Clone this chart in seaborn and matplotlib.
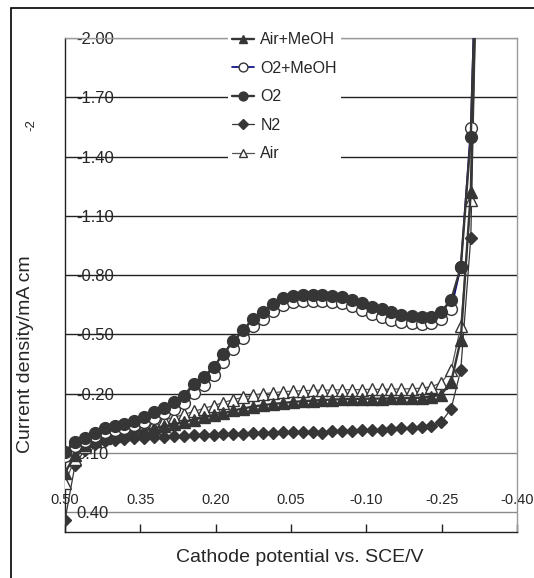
import numpy as np
import pandas as pd
import seaborn as sns
import matplotlib
matplotlib.use('Agg')
import matplotlib.pyplot as plt
from matplotlib.patches import Rectangle
from matplotlib.ticker import FixedLocator, StrMethodFormatter

#####################################################
## Data (potential in V, current density in mA cm-2)
potential = [0.500, 0.480, 0.461, 0.441, 0.421, 0.401, 0.382, 0.362, 0.342, 0.323,
             0.303, 0.283, 0.263, 0.244, 0.224, 0.204, 0.185, 0.165, 0.145, 0.126,
             0.106, 0.086, 0.066, 0.047, 0.027, 0.007, -0.012, -0.032, -0.052, -0.072,
             -0.091, -0.111, -0.131, -0.150, -0.170, -0.190, -0.210, -0.229, -0.249, -0.269,
             -0.288, -0.308, -0.328]

air_meoh = [0.200, 0.110, 0.060, 0.040, 0.025, 0.015, 0.005, -0.005, -0.015, -0.025,
            -0.035, -0.045, -0.058, -0.068, -0.080, -0.090, -0.100, -0.115, -0.125, -0.135,
            -0.142, -0.148, -0.153, -0.158, -0.162, -0.165, -0.168, -0.170, -0.172, -0.173,
            -0.174, -0.175, -0.175, -0.176, -0.177, -0.178, -0.180, -0.185, -0.195, -0.260,
            -0.473, -1.220, -3.400]

o2_meoh = [0.115, 0.065, 0.040, 0.015, -0.005, -0.015, -0.025, -0.040, -0.055, -0.075,
           -0.100, -0.125, -0.155, -0.205, -0.245, -0.295, -0.360, -0.425, -0.480, -0.540,
           -0.580, -0.620, -0.650, -0.665, -0.670, -0.670, -0.670, -0.665, -0.660, -0.645,
           -0.625, -0.605, -0.590, -0.575, -0.565, -0.560, -0.555, -0.560, -0.580, -0.630,
           -0.840, -1.545, -3.300]

o2 = [0.095, 0.046, 0.025, -0.002, -0.025, -0.035, -0.047, -0.063, -0.083, -0.105,
      -0.130, -0.160, -0.190, -0.250, -0.285, -0.335, -0.400, -0.465, -0.520, -0.580,
      -0.615, -0.655, -0.685, -0.695, -0.700, -0.700, -0.700, -0.695, -0.690, -0.675,
      -0.660, -0.640, -0.630, -0.615, -0.600, -0.595, -0.590, -0.590, -0.615, -0.675,
      -0.840, -1.500, -3.200]

n2 = [0.440, 0.160, 0.085, 0.055, 0.040, 0.032, 0.027, 0.024, 0.022, 0.020,
      0.018, 0.016, 0.013, 0.011, 0.009, 0.007, 0.005, 0.003, 0.002, 0.000,
      -0.001, -0.002, -0.004, -0.005, -0.006, -0.008, -0.002, -0.010, -0.011, -0.012,
      -0.014, -0.016, -0.018, -0.020, -0.024, -0.027, -0.032, -0.037, -0.055, -0.125,
      -0.320, -0.990, -3.300]

air = [0.250, 0.130, 0.070, 0.040, 0.020, 0.005, -0.008, -0.022, -0.036, -0.050,
       -0.065, -0.080, -0.095, -0.110, -0.125, -0.140, -0.155, -0.170, -0.182, -0.192,
       -0.200, -0.205, -0.210, -0.213, -0.215, -0.217, -0.218, -0.219, -0.220, -0.220,
       -0.221, -0.222, -0.222, -0.223, -0.224, -0.225, -0.228, -0.235, -0.255, -0.320,
       -0.540, -1.180, -3.300]

x_ticks = [0.50, 0.35, 0.20, 0.05, -0.10, -0.25, -0.40]
y_ticks = [-2.00, -1.70, -1.40, -1.10, -0.80, -0.50, -0.20, 0.10, 0.40]
legend_order = ['Air+MeOH', 'O2+MeOH', 'O2', 'N2', 'Air']
#####################################################


#####################################################
## Style
sns.set_theme(style='white')
plt.rcParams['font.family'] = ['Liberation Sans Narrow', 'Liberation Sans', 'DejaVu Sans']
plt.rcParams['axes.unicode_minus'] = False
dark = '#363636'
navy = '#000080'
#####################################################


fig = plt.figure(figsize=(5.34, 5.78), dpi=100)
ax = fig.add_axes([65 / 534, 46 / 578, 452 / 534, 494 / 578])

df = pd.DataFrame({'potential': potential})

# (label, values, line color, line width, marker, face, size, z)
series = [
    ('N2', n2, dark, 0.9, 'D', dark, 6.5, 3),
    ('Air', air, '#555555', 0.9, '^', 'white', 8.5, 4),
    ('Air+MeOH', air_meoh, dark, 1.7, '^', dark, 8.5, 5),
    ('O2+MeOH', o2_meoh, navy, 1.2, 'o', 'white', 8.5, 6),
    ('O2', o2, dark, 1.7, 'o', dark, 8.5, 7),
]
for label, vals, lc, lw, mk, mfc, ms, z in series:
    df[label] = vals
    sns.lineplot(data=df, x='potential', y=label, sort=False, ax=ax, label=label,
                 color=lc, linewidth=lw, marker=mk, markersize=ms,
                 markerfacecolor=mfc, markeredgecolor=dark, markeredgewidth=1.0,
                 zorder=z)

ax.set_xlim(0.50, -0.40)
ax.set_ylim(0.50, -2.00)

ax.xaxis.set_major_locator(FixedLocator(x_ticks))
ax.yaxis.set_major_locator(FixedLocator(y_ticks))
ax.xaxis.set_major_formatter(StrMethodFormatter('{x:.2f}'))
ax.yaxis.set_major_formatter(StrMethodFormatter('{x:.2f}'))

ax.tick_params(axis='x', direction='in', length=6, width=1, color='#222222',
               pad=-28, labelsize=10.5, bottom=True)
ax.tick_params(axis='y', length=0, pad=-8, labelsize=12, left=False)
for lab in ax.get_yticklabels():
    lab.set_horizontalalignment('left')

# horizontal gridlines
ax.yaxis.grid(True, color='#222222', linewidth=1.0, zorder=0)
ax.xaxis.grid(False)
ax.set_axisbelow(True)
for gl, yv in zip(ax.yaxis.get_gridlines(), y_ticks):
    if yv in (-2.00, 0.10, 0.40):
        gl.set_color('#8a8a8a')

for side in ['left', 'bottom']:
    ax.spines[side].set_color('#222222')
    ax.spines[side].set_linewidth(1.0)
for side in ['top', 'right']:
    ax.spines[side].set_color('#9a9a9a')
    ax.spines[side].set_linewidth(1.0)

ax.set_xlabel('Cathode potential vs. SCE/V', fontsize=14)
ax.xaxis.set_label_coords(0.52, -0.034)
ax.set_ylabel('Current density/mA cm', fontsize=14)
ax.yaxis.set_label_coords(-0.068, 0.36)
ax.text(-0.075, 0.824, '-2', transform=ax.transAxes, rotation=90,
        fontsize=9.5, ha='center', va='center')

handles, labels = ax.get_legend_handles_labels()
lookup = dict(zip(labels, handles))
leg = ax.legend([lookup[l] for l in legend_order], legend_order,
                loc='upper left', bbox_to_anchor=(0.36, 1.02), borderaxespad=0,
                fontsize=11.5, frameon=True, facecolor='white', edgecolor='none',
                framealpha=1, fancybox=False, handlelength=1.4, handletextpad=0.4,
                labelspacing=0.85, borderpad=0.25, markerscale=0.75)
leg.set_zorder(10)

# outer frame of the figure
fig.add_artist(Rectangle((11 / 534, -0.05), 1.0, 1.05 - 8 / 578, transform=fig.transFigure,
                         fill=False, edgecolor='black', linewidth=1.2))

plt.savefig('out.png', dpi=100)
